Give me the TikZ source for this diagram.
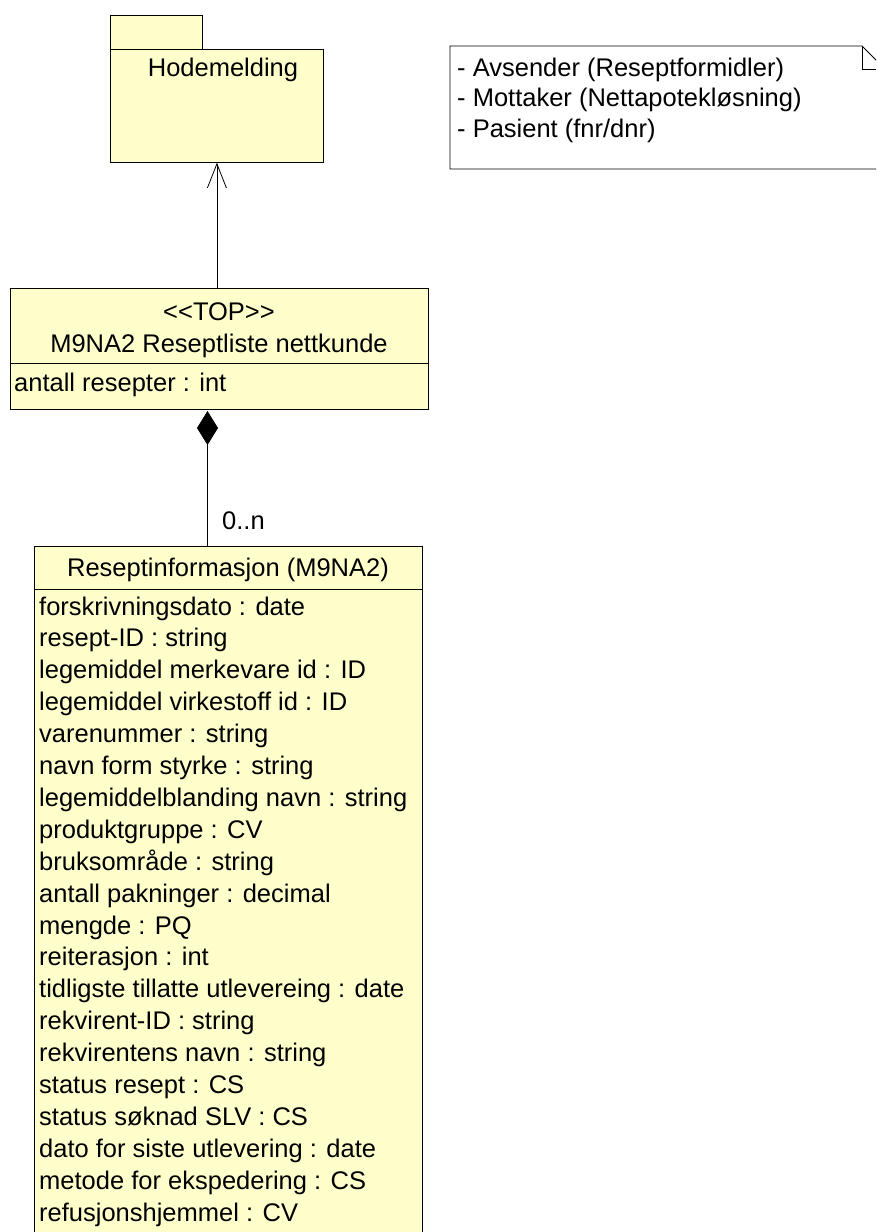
\documentclass[tikz,border=0pt]{standalone}
\usepackage{fontspec}
\setmainfont{Liberation Sans}[Ligatures=TeXOff]
\usetikzlibrary{arrows.meta}
\definecolor{umlfill}{RGB}{255,255,204}
\begin{document}
\begin{tikzpicture}[x=1pt,y=-1pt,
  box/.style={draw=black, line width=0.8pt, fill=umlfill, inner sep=0pt, anchor=north west},
  txt/.style={inner sep=0pt, font=\fontsize{25.5}{30.4}\selectfont, anchor=base west},
  ctxt/.style={inner sep=0pt, font=\fontsize{25.5}{30.4}\selectfont, anchor=base},
  conn/.style={draw=black, line width=0.8pt}]
\useasboundingbox (0,0) rectangle (876,1232);
\begin{scope}
\clip (0,0) rectangle (876,1232);
% package Hodemelding
\node[box, minimum width=92pt, minimum height=34pt] (pkgtab) at (110,15) {};
\node[box, minimum width=213pt, minimum height=113pt] (pkg) at (110,49) {};
\node[ctxt] (pkgname) at (223,76) {Hodemelding};
% note
\draw[line width=0.8pt, fill=white] (450,46) -- (862,46) -- (885,69) -- (885,169) -- (450,169) -- cycle;
\draw[line width=0.8pt] (862,46) -- (862,69) -- (885,69);
\node[txt] (n1) at (457,76) {- Avsender (Reseptformidler)};
\node[txt] (n2) at (457,106) {- Mottaker (Nettapotekløsning)};
\node[txt] (n3) at (457,137) {- Pasient (fnr/dnr)};
% TOP class
\node[box, minimum width=418pt, minimum height=121pt] (top) at (10,288) {};
\draw[conn] (10,363) -- (428,363);
\node[ctxt] (topst) at (219,320) {<<TOP>>};
\node[ctxt] (topname) at (219,352) {M9NA2 Reseptliste nettkunde};
\node[txt] (topattr) at (14,391) {antall resepter : int};
% Reseptinformasjon class
\node[box, minimum width=388pt, minimum height=710pt] (info) at (34,546) {};
\draw[conn] (34,589) -- (422,589);
\node[ctxt] (infoname) at (228,576) {Reseptinformasjon (M9NA2)};
\foreach \t [count=\i] in {
  forskrivningsdato : date,
  resept-ID : string,
  legemiddel merkevare id : ID,
  legemiddel virkestoff id : ID,
  varenummer : string,
  navn form styrke : string,
  legemiddelblanding navn : string,
  produktgruppe : CV,
  bruksområde : string,
  antall pakninger : decimal,
  mengde : PQ,
  reiterasjon : int,
  tidligste tillatte utlevereing : date,
  rekvirent-ID : string,
  rekvirentens navn : string,
  status resept : CS,
  status søknad SLV : CS,
  dato for siste utlevering : date,
  metode for ekspedering : CS,
  refusjonshjemmel : CV}
  \node[txt] (attr\i) at (39,{615+31.9*(\i-1)}) {\t};
% connectors
\draw[conn, -{Straight Barb[length=24pt,width=19pt]}] (pkg.south |- top.north) -- (pkg.south);
\coordinate (dtop) at (207.5,411);
\draw[conn, {Diamond[length=34pt,width=21pt,fill=black]}-] (dtop) -- (dtop |- info.north);
\node[txt] (mult) at (222,529) {0..n};
\end{scope}
\end{tikzpicture}
\end{document}
